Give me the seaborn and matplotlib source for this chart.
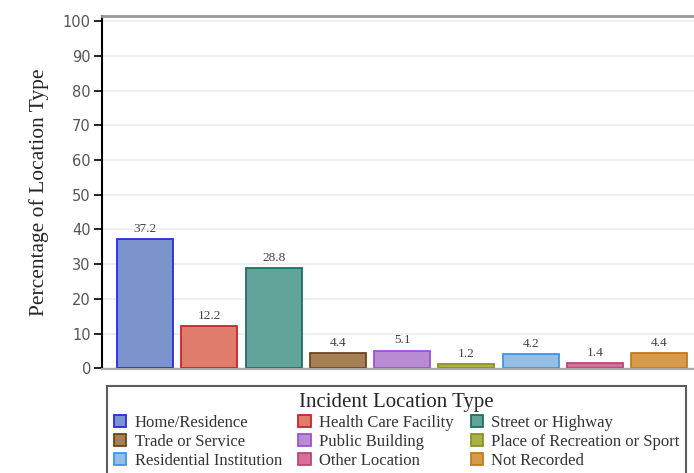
import matplotlib
matplotlib.use("Agg")
import matplotlib.pyplot as plt
import seaborn as sns
import pandas as pd
from matplotlib.patches import Patch

locations = ["Home/Residence", "Health Care Facility", "Street or Highway",
             "Trade or Service", "Public Building", "Place of Recreation or Sport",
             "Residential Institution", "Other Location", "Not Recorded"]
percent = [37.2, 12.2, 28.8, 4.4, 5.1, 1.2, 4.2, 1.4, 4.4]
fills = ["#7b95cc", "#e07c6c", "#62a39a", "#a68055", "#b98bd0",
         "#a9b243", "#96bee2", "#d4709a", "#d69b4a"]
edges = ["#2a2ae6", "#cc2233", "#1f7064", "#6e4520", "#a050d8",
         "#8a9220", "#3a96f0", "#c24475", "#c47a1e"]
yticks = [0, 10, 20, 30, 40, 50, 60, 70, 80, 90, 100]

df = pd.DataFrame({"Location": locations, "Percent": percent})

sns.set_style("white")
plt.rcParams["font.family"] = ["DejaVu Sans"]

fig = plt.figure(figsize=(6.94, 4.73), dpi=100)
ax = fig.add_axes([0.147, 0.22, 0.865, 0.747])

sns.barplot(data=df, x="Location", y="Percent", hue="Location",
            palette=fills, order=locations, hue_order=locations,
            width=0.87, legend=False, ax=ax, saturation=1)

for patch, ec in zip(ax.patches, edges):
    patch.set_edgecolor(ec)
    patch.set_linewidth(1.3)

for cont in ax.containers:
    ax.bar_label(cont, fmt="%.1f", padding=3, fontsize=9.5,
                 color="#444444", family="Liberation Serif")

ax.set_xlim(-0.67, len(locations) - 0.33)
ax.set_ylim(-0.2, 101.6)
ax.set_yticks(yticks)
ax.yaxis.grid(True, color="#eeeeee", linewidth=1.3)
ax.set_axisbelow(True)
ax.tick_params(axis="y", left=True, length=6, width=1.2, color="black",
               labelsize=10.5, labelcolor="#555555", pad=2)
ax.tick_params(axis="x", bottom=False, labelbottom=False)
ax.set_xlabel("")
ax.set_ylabel("Percentage of Location Type", family="Liberation Serif",
              fontsize=15.5, labelpad=10)

ax.spines["left"].set_color("black")
ax.spines["left"].set_linewidth(1.5)
ax.spines["top"].set_color("#999999")
ax.spines["top"].set_linewidth(2)
ax.spines["bottom"].set_color("#aaaaaa")
ax.spines["bottom"].set_linewidth(1.5)

# legend is filled row by row in the reference, matplotlib fills by column
order = [0, 3, 6, 1, 4, 7, 2, 5, 8]
handles = [Patch(facecolor=fills[i], edgecolor=edges[i], linewidth=1.3) for i in order]
labels = [locations[i] for i in order]
leg = fig.legend(handles, labels, ncol=3, loc="upper left",
                 bbox_to_anchor=(107 / 694, 1 - 386 / 473),
                 title="Incident Location Type",
                 prop={"family": "Liberation Serif", "size": 12},
                 title_fontproperties={"family": "Liberation Serif", "size": 15},
                 frameon=True, fancybox=False, edgecolor="#333333",
                 handlelength=0.75, handleheight=0.75, handletextpad=0.5,
                 columnspacing=1.0, labelspacing=0.18, borderpad=0.4,
                 borderaxespad=0)
leg.get_frame().set_linewidth(1.5)
for t in leg.get_texts():
    t.set_color("#333333")

fig.savefig("out.png", dpi=100)
